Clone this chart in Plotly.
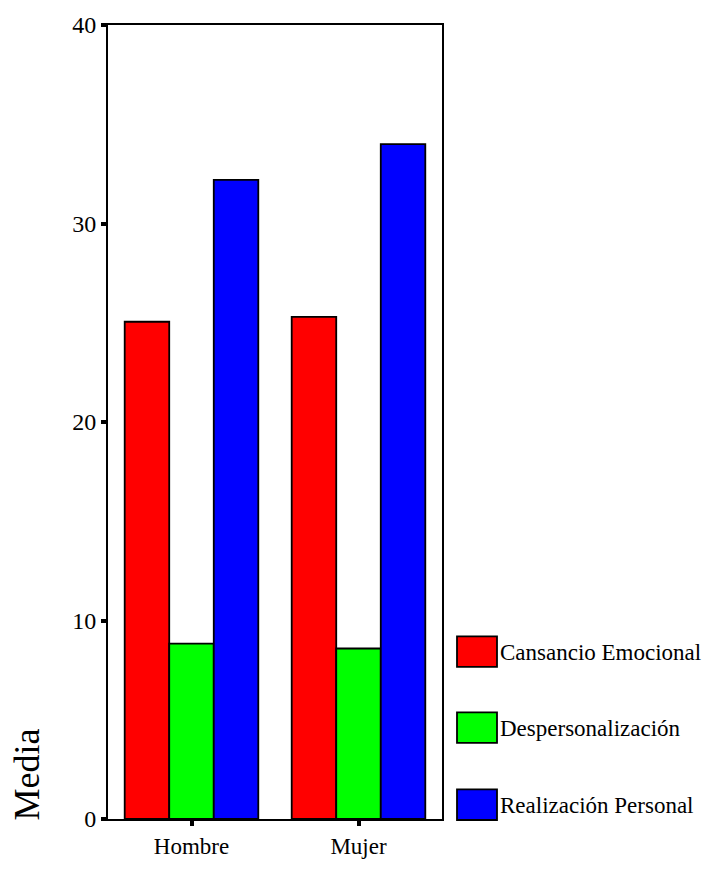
import plotly.graph_objects as go

categories = ["Hombre", "Mujer"]
series_names = ["Cansancio Emocional", "Despersonalización", "Realización Personal"]
cansancio = [25.05, 25.3]
despers = [8.84, 8.59]
realizacion = [32.2, 34.0]
colors = ["#ff0000", "#00ff00", "#0000ff"]
y_ticks = [0, 10, 20, 30, 40]

W, H = 706, 871
L, R, T, B = 108, 442, 23, 827

FONT = "Liberation Serif, Times New Roman, serif"

fig = go.Figure()
for name, vals, col in zip(series_names, [cansancio, despers, realizacion], colors):
    fig.add_trace(go.Bar(
        x=categories, y=vals, name=name,
        marker=dict(color=col, line=dict(color="black", width=1.8)),
        showlegend=False,
    ))

fig.update_layout(
    width=W, height=H,
    margin=dict(l=L, r=W - R, t=T, b=H - B, pad=0),
    paper_bgcolor="white", plot_bgcolor="white",
    barmode="group", bargap=0.2, bargroupgap=0,
    font=dict(family=FONT, size=23, color="black"),
    xaxis=dict(
        showline=True, linecolor="black", linewidth=2, mirror=True,
        ticks="outside", ticklen=5, tickwidth=4, tickcolor="black",
        showgrid=False, tickfont=dict(size=23, family=FONT),
        range=[-0.5, 1.5],
    ),
    yaxis=dict(
        range=[0, 40], tickvals=y_ticks,
        showline=True, linecolor="black", linewidth=2, mirror=True,
        ticks="outside", ticklen=5, tickwidth=4, tickcolor="black",
        showgrid=False, zeroline=False, tickfont=dict(size=24, family=FONT),
    ),
)

pw = R - L
ph = B - T
def px_x(x):
    return (x - L) / pw
def px_y(y):
    return (B - y) / ph

# Legend drawn manually
legend_tops = [642, 719, 797]
for name, col, top in zip(series_names, colors, legend_tops):
    fig.add_shape(type="rect", xref="paper", yref="paper",
                  x0=px_x(457), x1=px_x(497), y0=px_y(top + 31), y1=px_y(top),
                  fillcolor=col, line=dict(color="black", width=1.8))
    fig.add_annotation(x=px_x(498), y=px_y(top + 16), xref="paper", yref="paper",
                       text=name, showarrow=False, xanchor="left", yanchor="middle",
                       font=dict(size=23, family=FONT, color="black"))

# Y axis title
fig.add_annotation(x=px_x(27), y=px_y(782), xref="paper", yref="paper",
                   text="Media", showarrow=False, textangle=-90,
                   xanchor="center", yanchor="middle",
                   font=dict(size=36, family=FONT, color="black"))

post = (
    "document.documentElement.style.margin='0';"
    "document.documentElement.style.padding='0';"
    "document.documentElement.style.overflow='hidden';"
    "document.body.style.margin='0';"
    "document.body.style.padding='0';"
    "document.body.style.overflow='hidden';"
)

fig.write_html("out.html", post_script=post, config={"displayModeBar": False})
